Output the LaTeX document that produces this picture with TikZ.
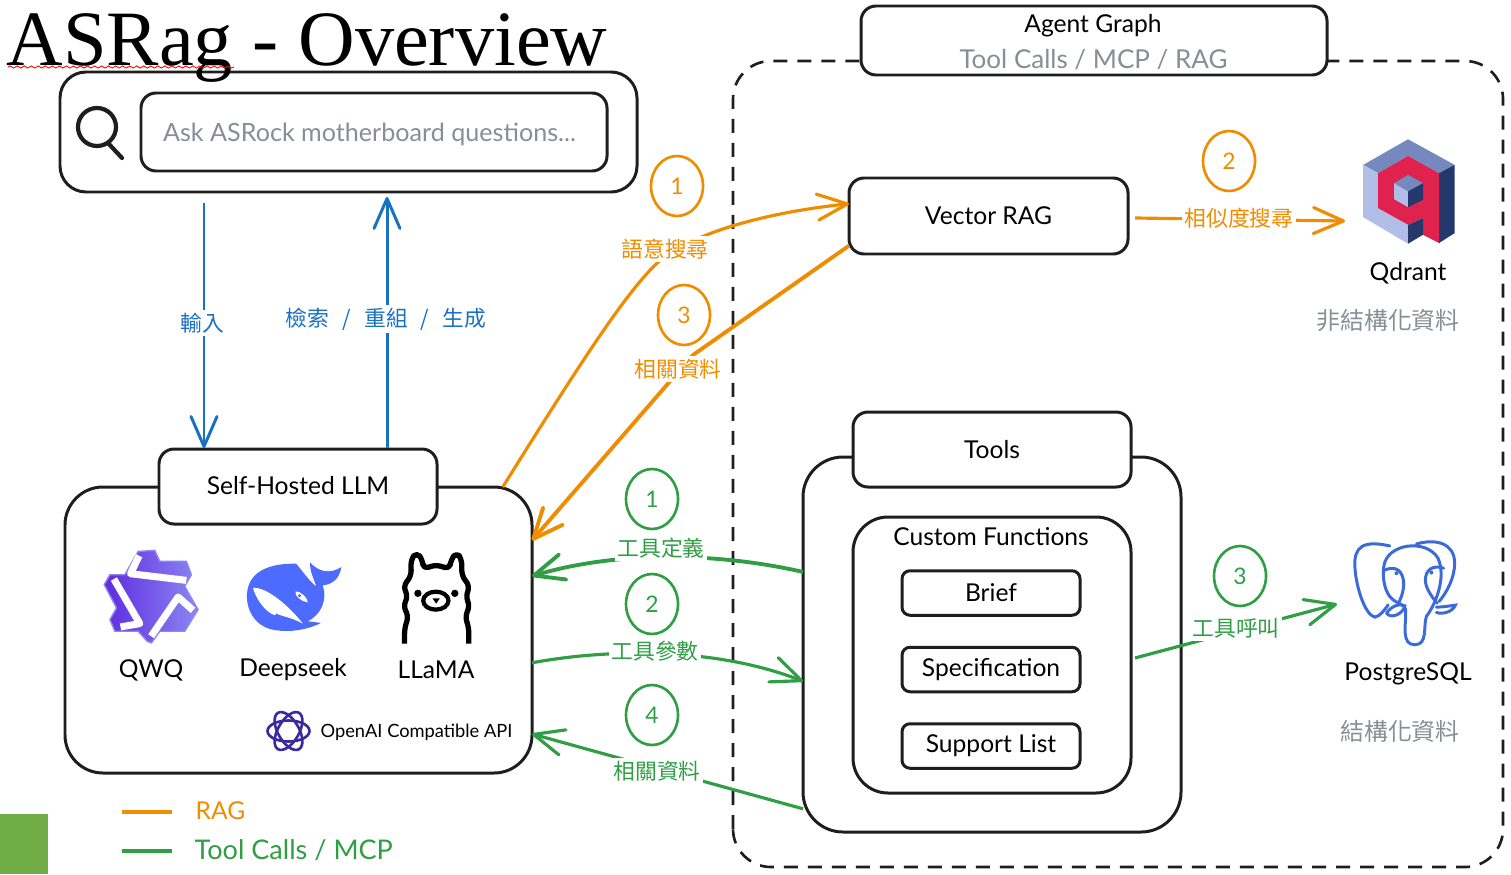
\documentclass[tikz,border=0pt]{standalone}
\usepackage{fontspec}
\usepackage{xcolor}
\usepackage{tikz}
\usetikzlibrary{arrows.meta,calc,decorations.pathmorphing,positioning,shapes.geometric}
\setmainfont{Lato}
\newfontfamily\titlefont{Liberation Serif}
\newfontfamily\cjk{Noto Sans CJK TC}
\definecolor{Ink}{HTML}{1E1E1E}
\definecolor{Muted}{HTML}{868E96}
\definecolor{RagOrange}{HTML}{F08C00}
\definecolor{ToolGreen}{HTML}{2F9E44}
\definecolor{FlowBlue}{HTML}{1971C2}
\definecolor{SlideGreen}{HTML}{70AD47}
\definecolor{WhaleBlue}{HTML}{4D6BFE}
\definecolor{ElephantBlue}{HTML}{3B6BDB}
\definecolor{GptPurple}{HTML}{3B2A9B}
\definecolor{QwenDark}{HTML}{5F2BE0}
\definecolor{QwenLight}{HTML}{8C86F2}
\definecolor{QdrantRed}{HTML}{E0234E}
\definecolor{QdrantTop}{HTML}{7589BE}
\definecolor{QdrantLeft}{HTML}{B1BFE8}
\definecolor{QdrantDark}{HTML}{24386C}
\tikzset{
  sketchbox/.style={draw=Ink,line width=0.85pt,fill=white,rounded corners=0.15cm,
    inner sep=0pt,outer sep=0pt,font=\fontsize{7}{8.6}\selectfont},
  handtext/.style={inner sep=0pt,font=\fontsize{7}{8.6}\selectfont},
  cjktext/.style={inner sep=0.8pt,fill=white,font=\cjk\fontsize{6.2}{7}\selectfont},
  graytext/.style={inner sep=0pt,text=Muted,font=\cjk\fontsize{6.8}{8}\selectfont},
  numring/.style={ellipse,line width=0.75pt,minimum width=0.52cm,minimum height=0.6cm,
    inner sep=0pt,outer sep=0pt,font=\fontsize{6.5}{8}\selectfont},
  flowline/.style={FlowBlue,line width=0.85pt,->},
  ragline/.style={RagOrange,line width=0.9pt},
  toolline/.style={ToolGreen,line width=0.9pt}
}
\begin{document}
\begin{tikzpicture}[x=1cm,y=1cm,>={Straight Barb[length=3mm,width=2.6mm,round]}]
  \useasboundingbox (0,0) rectangle (15.11,8.74);
  \fill[SlideGreen] (0,0) rectangle (0.48,0.60);

  % agent frame
  \draw[Ink,line width=0.75pt,dashed,dash pattern=on 0.14cm off 0.1cm,rounded corners=0.38cm] (7.33,0.07) rectangle (15.03,8.13);
  \node[sketchbox,minimum width=4.66cm,minimum height=0.69cm] (agentgraph) at (10.94,8.335) {};
  \node[handtext] (agenttitle) at (10.93,8.48) {Agent Graph};
  \node[handtext,text=Muted,font=\fontsize{7.4}{9}\selectfont] (agentsub) at (10.935,8.14) {Tool Calls / MCP / RAG};

  % search bar
  \node[sketchbox,minimum width=5.77cm,minimum height=1.2cm,rounded corners=0.26cm] (searchbar) at (3.485,7.42) {};
  \node[sketchbox,minimum width=4.66cm,minimum height=0.78cm] (searchinput) at (3.74,7.42) {};
  \node[handtext,text=Muted,font=\fontsize{7.15}{9}\selectfont] (searchhint) at (3.695,7.40) {Ask ASRock motherboard questions...};
  \draw[Ink,line width=1.2pt] (0.97,7.47) circle (0.19);
  \draw[Ink,line width=1.2pt,line cap=round] (1.08,7.31) -- (1.22,7.16);

  % title
  \node[anchor=base west,inner sep=0pt,font=\titlefont\fontsize{22.3}{24}\selectfont] (title) at (0.06,8.08) {ASRag - Overview};
  \draw[red,line width=0.25pt,decorate,decoration={snake,amplitude=0.3pt,segment length=2pt}] (0.08,8.07) -- (2.34,8.07);

  % llm group
  \node[sketchbox,minimum width=4.67cm,minimum height=2.86cm,rounded corners=0.38cm] (llm) at (2.985,2.44) {};
  \node[sketchbox,minimum width=2.78cm,minimum height=0.75cm] (selfhosted) at (2.98,3.875) {\raisebox{0.8pt}{Self-Hosted LLM}};
  \node[handtext] (qwq) at (1.51,2.04) {QWQ};
  \node[handtext] (deepseek) at (2.93,2.04) {Deepseek};
  \node[handtext] (llama) at (4.36,2.04) {LLaMA};
  \node[handtext,font=\fontsize{5.2}{6}\selectfont] (openai) at (4.165,1.42) {OpenAI Compatible API};

  % qwen logo
  \begin{scope}[shift={(0.60,4.34)},x=0.00333cm,y=-0.00333cm]
    \path[draw=QwenLight,line width=0.4pt,left color=QwenDark,right color=QwenLight]
      (235,335) -- (285,332) -- (300,365) -- (380,365) -- (395,405) -- (375,440) -- (415,510) -- (375,575)
      -- (300,575) -- (275,610) -- (262,605) -- (235,575) -- (165,575) -- (150,540) -- (170,505) -- (133,435)
      -- (150,405) -- (195,405) -- cycle;
    \draw[white,line width=2pt,line join=round] (238,348) -- (212,402) -- (380,422);
    \draw[white,line width=2pt,line join=round] (162,418) -- (240,552) -- (182,562);
    \draw[white,line width=2pt,line join=round] (400,512) -- (355,472) -- (274,590);
  \end{scope}

  % deepseek logo
  \begin{scope}[shift={(0.60,4.34)},x=0.00333cm,y=-0.00333cm]
    \fill[WhaleBlue] (562,465) .. controls (565,395) and (630,370) .. (710,372)
      .. controls (730,395) and (750,425) .. (770,440) .. controls (765,420) and (750,395) .. (752,368)
      .. controls (775,395) and (810,405) .. (846,382) .. controls (840,420) and (815,435) .. (790,437)
      .. controls (805,480) and (785,525) .. (745,545) -- (785,550)
      .. controls (740,572) and (690,578) .. (650,572) .. controls (590,565) and (560,515) .. (562,465) -- cycle;
    \fill[white] (580,445) .. controls (620,440) and (690,500) .. (730,552)
      .. controls (690,530) and (660,530) .. (650,520) .. controls (655,540) and (600,510) .. (580,445) -- cycle;
    \fill[white] (708,455) .. controls (725,455) and (745,475) .. (745,488) .. controls (725,485) and (705,470) .. (708,455) -- cycle;
    \fill[WhaleBlue] (720,468) circle (5);
  \end{scope}

  % llama logo
  \begin{scope}[shift={(0.60,4.34)},x=0.00333cm,y=-0.00333cm]
    \draw[black,line width=1.5pt,line join=round,rounded corners=1.5pt]
      (1036,612) -- (1036,565) -- (1048,530) -- (1032,500) -- (1046,470) -- (1032,440) -- (1056,408)
      -- (1055,360) -- (1072,337) -- (1090,360) -- (1092,388) -- (1130,375) -- (1172,388) -- (1175,360)
      -- (1193,337) -- (1208,360) -- (1208,408) -- (1232,440) -- (1220,470) -- (1232,500) -- (1218,530)
      -- (1229,565) -- (1229,612);
    \draw[black,line width=1.2pt] (1130,483) ellipse (38 and 27);
    \fill[black] (1076,461) circle (11);
    \fill[black] (1187,461) circle (11);
    \fill[black] (1120,476) -- (1142,476) -- (1131,492) -- cycle;
  \end{scope}

  % openai logo
  \begin{scope}[shift={(2.885,1.43)}]
    \foreach \a in {0,60,120}
    {
      \draw[GptPurple,line width=0.75pt,rotate=\a] (0,0) ellipse (0.21 and 0.105);
    }
  \end{scope}

  % retrieval nodes
  \node[sketchbox,minimum width=2.79cm,minimum height=0.76cm] (vectorrag) at (9.885,6.58) {Vector RAG};

  % qdrant logo
  \begin{scope}[shift={(12.80,7.54)},x=0.00333cm,y=-0.00333cm]
    \fill[QdrantTop] (250,135) -- (385,58) -- (525,135) -- (478,160) -- (385,108) -- (295,160) -- cycle;
    \fill[QdrantLeft] (250,135) -- (295,160) -- (295,265) -- (385,315) -- (385,372) -- (250,292) -- cycle;
    \fill[QdrantDark] (525,135) -- (525,340) -- (478,370) -- (478,160) -- cycle;
    \fill[QdrantRed] (295,160) -- (385,108) -- (478,160) -- (478,370) -- (430,345) -- (430,295) -- (385,315) -- (295,265) -- cycle;
    \fill[QdrantDark] (385,315) -- (430,295) -- (430,345) -- (385,372) -- cycle;
    \fill[QdrantTop] (343,190) -- (385,165) -- (430,190) -- (385,215) -- cycle;
    \fill[QdrantLeft] (343,190) -- (385,215) -- (385,262) -- (343,238) -- cycle;
    \fill[QdrantDark] (385,215) -- (430,190) -- (430,240) -- (385,262) -- cycle;
  \end{scope}
  \node[handtext] (qdrant) at (14.08,6.01) {Qdrant};
  \node[graytext] (unstructured) at (13.88,5.53) {非結構化資料};

  % tools group
  \node[sketchbox,minimum width=3.78cm,minimum height=3.75cm,rounded corners=0.4cm] (toolsbox) at (9.92,2.295) {};
  \node[sketchbox,minimum width=2.78cm,minimum height=0.75cm] (tools) at (9.92,4.245) {Tools};
  \node[sketchbox,minimum width=2.78cm,minimum height=2.76cm,rounded corners=0.35cm] (custombox) at (9.92,2.19) {};
  \node[handtext] (customtitle) at (9.91,3.37) {Custom Functions};
  \foreach \name/\y/\t in {brief/2.81/Brief, specification/2.045/Specification, supportlist/1.28/Support List}
  {
    \node[sketchbox,minimum width=1.78cm,minimum height=0.445cm,rounded corners=0.08cm] (\name) at (9.91,\y) {\t};
  }

  % postgres logo
  \begin{scope}[shift={(12.80,3.54)},x=0.00333cm,y=-0.00333cm]
    \begin{scope}[ElephantBlue,line width=0.85pt,line cap=round]
      \draw (330,78) .. controls (250,60) and (222,80) .. (225,140) .. controls (228,200) and (255,285) .. (285,292) .. controls (300,290) and (315,270) .. (325,255);
      \draw (312,140) .. controls (320,70) and (440,55) .. (475,115) .. controls (500,170) and (470,250) .. (440,290) .. controls (430,320) and (445,375) .. (405,375) .. controls (365,375) and (378,320) .. (378,275) .. controls (378,250) and (350,255) .. (330,230) .. controls (312,205) and (308,170) .. (312,140);
      \draw (410,72) .. controls (470,55) and (525,70) .. (525,130) .. controls (525,175) and (500,220) .. (478,245);
      \draw (312,152) .. controls (345,135) and (372,150) .. (372,195) .. controls (370,220) and (362,240) .. (355,252);
      \draw (492,145) .. controls (465,135) and (435,145) .. (437,185) .. controls (440,210) and (460,235) .. (472,250);
      \draw (320,280) .. controls (335,258) and (360,250) .. (375,258) .. controls (372,280) and (335,300) .. (320,280);
      \draw (470,262) .. controls (490,262) and (510,258) .. (527,256) .. controls (520,275) and (490,285) .. (470,278);
    \end{scope}
    \fill[ElephantBlue] (350,160) circle (6);
    \fill[ElephantBlue] (455,158) circle (6);
  \end{scope}
  \node[handtext] (postgres) at (14.08,2.00) {PostgreSQL};
  \node[graytext] (structured) at (14.0,1.43) {結構化資料};

  % free ends
  \coordinate (inputtop) at (2.04,6.71);
  \coordinate (inputend) at (2.04,4.26);
  \coordinate (genstart) at (3.87,4.26);
  \coordinate (genend) at (3.87,6.77);
  \coordinate (simstart) at (11.35,6.56);
  \coordinate (qdrantin) at (13.45,6.53);
  \coordinate (pgstart) at (11.35,2.16);
  \coordinate (pgin) at (13.37,2.70);

  % connectors
  \draw[flowline] (inputtop) -- (inputend);
  \draw[flowline] (genstart) -- (genend);
  \draw[ragline,->] (llm.35) .. controls (5.85,5.19) and (6.25,5.79) .. (6.55,6.09)
    .. controls (6.9,6.42) and (7.7,6.62) .. (vectorrag.175);
  \draw[ragline,line width=1.1pt,->] (vectorrag.192) -- (6.93,5.19) -- (6.65,4.87) -- (llm.21.5);
  \draw[ragline,->] (simstart) -- (qdrantin);
  \draw[toolline,line width=1.1pt,->] (toolsbox.159) .. controls (7.2,3.21) and (6.2,3.24) .. (llm.13.5);
  \draw[toolline,->] (llm.-8.8) .. controls (6.0,2.24) and (7.1,2.29) .. (toolsbox.191.2);
  \draw[toolline,->] (toolsbox.221) -- (llm.-24.2);
  \draw[toolline,->] (pgstart) -- (pgin);

  % flow labels
  \node[cjktext,text=FlowBlue] (inputlabel) at (2.02,5.51) {輸入};
  \node[cjktext,text=FlowBlue] (genlabel) at (3.86,5.55) {檢索\hspace{0.6em}/\hspace{0.6em}重組\hspace{0.6em}/\hspace{0.6em}生成};
  \node[cjktext,text=RagOrange] (semanticlabel) at (6.65,6.25) {語意搜尋};
  \node[cjktext,text=RagOrange] (ragdatalabel) at (6.78,5.05) {相關資料};
  \node[cjktext,text=RagOrange] (similarlabel) at (12.39,6.56) {相似度搜尋};
  \node[cjktext,text=ToolGreen] (deflabel) at (6.61,3.26) {工具定義};
  \node[cjktext,text=ToolGreen] (paramlabel) at (6.55,2.23) {工具參數};
  \node[cjktext,text=ToolGreen] (tooldatalabel) at (6.57,1.03) {相關資料};
  \node[cjktext,text=ToolGreen] (calllabel) at (12.36,2.46) {工具呼叫};

  % step rings
  \foreach \name/\x/\y/\c/\t in {ragone/6.77/6.88/RagOrange/1, ragtwo/12.29/7.13/RagOrange/2, ragthree/6.84/5.59/RagOrange/3,
    toolone/6.52/3.75/ToolGreen/1, tooltwo/6.52/2.70/ToolGreen/2, toolthree/12.40/2.98/ToolGreen/3, toolfour/6.52/1.59/ToolGreen/4}
  {
    \node[numring,draw=\c,text=\c] (\name) at (\x,\y) {\t};
  }

  % legend
  \coordinate (ragkey) at (1.22,0.62);
  \coordinate (toolkey) at (1.22,0.23);
  \draw[ragline] (ragkey) -- ++(0.5,0);
  \draw[toolline] (toolkey) -- ++(0.5,0);
  \node[handtext,anchor=west,text=RagOrange] (raglegend) at (1.95,0.63) {RAG};
  \node[handtext,anchor=west,text=ToolGreen,font=\fontsize{7.7}{9}\selectfont] (toollegend) at (1.94,0.24) {Tool Calls / MCP};
\end{tikzpicture}
\end{document}
